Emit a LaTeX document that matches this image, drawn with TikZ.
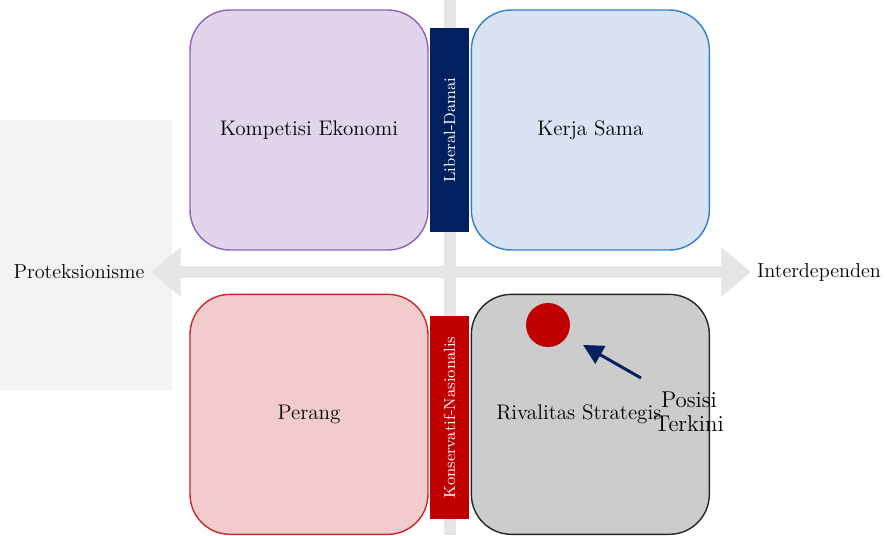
\documentclass[tikz,border=0pt]{standalone}
\usepackage{xcolor}
\usepackage{tikz}
\usetikzlibrary{arrows.meta,positioning}

\definecolor{unguline}{HTML}{8E63B8}
\definecolor{ungufill}{HTML}{E1D5EB}
\definecolor{biruline}{HTML}{2F82CC}
\definecolor{birufill}{HTML}{DAE3F3}
\definecolor{merahline}{HTML}{C8282D}
\definecolor{merahfill}{HTML}{F2CCCC}
\definecolor{abufill}{HTML}{CCCCCC}
\definecolor{abuline}{HTML}{262626}
\definecolor{navy}{HTML}{002060}
\definecolor{merah}{HTML}{C00000}
\definecolor{sumbu}{HTML}{E6E6E6}
\definecolor{latar}{HTML}{F3F3F3}

\begin{document}
\begin{tikzpicture}[
  x=0.02cm, y=-0.02cm,
  node distance=8.6mm and 8.4mm,
  quad/.style={draw,rounded corners=8mm,line width=0.8pt,align=center,minimum width=47.6mm,minimum height=48mm,font=\fontsize{12}{13.5}\selectfont},
  bar/.style={rotate=90,inner sep=0pt,minimum width=40.8mm,minimum height=7.8mm,text=white,font=\fontsize{9.2}{10}\selectfont},
  lbl/.style={font=\fontsize{11.5}{13}\selectfont},
  axis/.style={draw=sumbu,line width=2.4mm},
  arr/.style={-{Triangle[length=4mm,width=4mm]},navy,line width=1.7pt}
]
\useasboundingbox (0,0) rectangle (887,535);
\fill[latar] (0,120) rectangle (172,390);

\node[lbl] (prot) at (79,272) {Proteksionisme};
\node[lbl,anchor=west] (inter) at (751,272) {Interdependen};
\coordinate (atas) at (450,0);
\coordinate (bawah) at (450,535);
\draw[axis] (atas) -- (bawah);
\draw[axis,{Triangle[length=6mm,width=9.6mm]}-{Triangle[length=6mm,width=9.6mm]}] (prot.east) -- (inter.west);

\node[quad,draw=unguline,fill=ungufill] (kompetisi) at (309,130) {Kompetisi Ekonomi};
\node[quad,draw=biruline,fill=birufill,right=of kompetisi] (kerjasama) {Kerja Sama};
\node[quad,draw=merahline,fill=merahfill,below=of kompetisi] (perang) {Perang};
\node[quad,draw=abuline,fill=abufill,below=of kerjasama] (rivalitas) {\hspace*{-4.6mm}Rivalitas Strategis};

\node[bar,fill=navy] (liberal) at (449.5,130) {Liberal-Damai};
\node[bar,fill=merah] (konservatif) at (449.5,417.5) {Konservatif-Nasionalis};

\node[circle,fill=merah,inner sep=0pt,minimum size=8.8mm] (posisi) at (548,325) {};
\node[align=center,font=\fontsize{13}{13.5}\selectfont] (terkini) at (689,412) {Posisi\\Terkini};
\coordinate (ekor) at (641,378);
\draw[arr,shorten >=3.6mm] (ekor) -- (posisi);
\end{tikzpicture}
\end{document}
